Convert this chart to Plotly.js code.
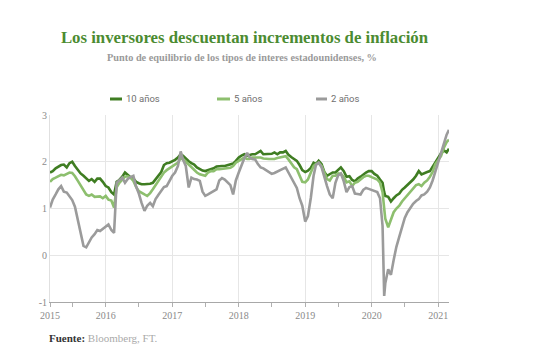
<!DOCTYPE html>
<html>
<head>
<meta charset="utf-8">
<script src="https://cdn.plot.ly/plotly-3.0.1.min.js"></script>
<style>html,body{margin:0;padding:0;background:#fff;}#chart{width:533px;height:362px;}</style>
</head>
<body>
<div id="chart"></div>
<script>
// Observation dates (twice a month, one extra point in March 2020)
const dates = [
  '2015-03-01','2015-03-16','2015-04-01','2015-04-16','2015-05-01','2015-05-16','2015-06-01','2015-06-16','2015-07-01','2015-07-16',
  '2015-08-01','2015-08-16','2015-09-01','2015-09-16','2015-10-01','2015-10-16','2015-11-01','2015-11-16','2015-12-01','2015-12-16',
  '2016-01-01','2016-01-16','2016-02-01','2016-02-16','2016-03-01','2016-03-16','2016-04-01','2016-04-16','2016-05-01','2016-05-16',
  '2016-06-01','2016-06-16','2016-07-01','2016-07-16','2016-08-01','2016-08-16','2016-09-01','2016-09-16','2016-10-01','2016-10-16',
  '2016-11-01','2016-11-16','2016-12-01','2016-12-16',
  '2017-01-01','2017-01-16','2017-02-01','2017-02-16','2017-03-01','2017-03-16','2017-04-01','2017-04-16','2017-05-01','2017-05-16',
  '2017-06-01','2017-06-16','2017-07-01','2017-07-16','2017-08-01','2017-08-16','2017-09-01','2017-09-16','2017-10-01','2017-10-16',
  '2017-11-01','2017-11-16','2017-12-01','2017-12-16',
  '2018-01-01','2018-01-16','2018-02-01','2018-02-16','2018-03-01','2018-03-16','2018-04-01','2018-04-16','2018-05-01','2018-05-16',
  '2018-06-01','2018-06-16','2018-07-01','2018-07-16','2018-08-01','2018-08-16','2018-09-01','2018-09-16','2018-10-01','2018-10-16',
  '2018-11-01','2018-11-16','2018-12-01','2018-12-16',
  '2019-01-01','2019-01-16','2019-02-01','2019-02-16','2019-03-01','2019-03-16','2019-04-01','2019-04-16','2019-05-01','2019-05-16',
  '2019-06-01','2019-06-16','2019-07-01','2019-07-16','2019-08-01','2019-08-16','2019-09-01','2019-09-16','2019-10-01','2019-10-16',
  '2019-11-01','2019-11-16','2019-12-01','2019-12-16',
  '2020-01-01','2020-01-16','2020-02-01','2020-02-16','2020-03-01','2020-03-10','2020-03-16','2020-04-01','2020-04-16','2020-05-01',
  '2020-05-16','2020-06-01','2020-06-16','2020-07-01','2020-07-16','2020-08-01','2020-08-16','2020-09-01','2020-09-16','2020-10-01',
  '2020-10-16','2020-11-01','2020-11-16','2020-12-01','2020-12-16',
  '2021-01-01','2021-01-16','2021-02-01','2021-02-16','2021-03-01'
];
// 10-year breakeven, %
const be10 = [
  1.77,1.80,1.86,1.90,1.93,1.94,1.88,1.97,2.00,1.91,
  1.82,1.75,1.70,1.64,1.59,1.63,1.57,1.64,1.64,1.57,
  1.48,1.45,1.35,1.30,1.57,1.61,1.68,1.77,1.71,1.67,
  1.64,1.57,1.54,1.52,1.52,1.52,1.53,1.55,1.63,1.70,
  1.78,1.93,1.97,1.98,
  2.01,2.04,2.09,2.16,2.13,2.06,2.01,1.97,1.94,1.88,
  1.84,1.81,1.80,1.82,1.84,1.86,1.90,1.91,1.91,1.91,
  1.93,1.95,1.96,2.02,
  2.09,2.13,2.16,2.13,2.15,2.16,2.16,2.19,2.23,2.16,
  2.16,2.16,2.17,2.20,2.16,2.20,2.20,2.23,2.15,2.10,
  2.05,2.02,1.93,1.82,
  1.78,1.81,1.87,1.98,1.95,2.02,1.95,1.78,1.70,1.73,
  1.77,1.77,1.82,1.88,1.80,1.68,1.69,1.61,1.58,1.64,
  1.68,1.73,1.77,1.80,
  1.80,1.74,1.70,1.62,1.55,1.35,1.27,1.25,1.15,1.22,
  1.28,1.32,1.40,1.45,1.50,1.55,1.62,1.70,1.80,1.73,
  1.76,1.78,1.80,1.90,2.00,
  2.08,2.18,2.24,2.20,2.28
];
// 5-year breakeven, %
const be5 = [
  1.57,1.63,1.66,1.69,1.72,1.71,1.74,1.77,1.76,1.69,
  1.59,1.50,1.40,1.30,1.27,1.30,1.25,1.26,1.26,1.22,
  1.27,1.19,1.17,1.02,1.45,1.55,1.62,1.68,1.69,1.66,
  1.59,1.46,1.37,1.33,1.30,1.27,1.33,1.41,1.50,1.59,
  1.69,1.77,1.82,1.86,
  1.89,1.94,1.98,2.08,2.05,2.00,1.94,1.88,1.83,1.77,
  1.73,1.71,1.70,1.77,1.80,1.80,1.84,1.84,1.85,1.85,
  1.86,1.87,1.91,1.98,
  2.02,2.05,2.09,2.06,2.06,2.09,2.09,2.09,2.09,2.07,
  2.06,2.06,2.06,2.06,2.08,2.09,2.10,2.12,2.05,1.97,
  1.88,1.84,1.72,1.57,
  1.56,1.62,1.77,1.91,1.95,1.98,1.91,1.75,1.63,1.60,
  1.70,1.70,1.75,1.74,1.68,1.56,1.58,1.48,1.55,1.57,
  1.63,1.67,1.70,1.70,
  1.67,1.65,1.62,1.55,1.35,1.00,0.78,0.60,0.78,0.92,
  1.00,1.06,1.15,1.22,1.30,1.38,1.44,1.50,1.52,1.48,
  1.55,1.60,1.68,1.78,1.95,
  2.05,2.12,2.30,2.42,2.47
];
// 2-year breakeven, %
const be2 = [
  1.02,1.19,1.30,1.41,1.48,1.36,1.34,1.25,1.18,1.04,
  0.77,0.50,0.20,0.17,0.28,0.38,0.45,0.54,0.52,0.57,
  0.63,0.66,0.54,0.48,1.55,1.60,1.66,1.55,1.63,1.67,
  1.70,1.47,1.32,1.12,0.95,1.06,1.12,1.05,1.20,1.29,
  1.38,1.46,1.48,1.60,
  1.70,1.77,1.91,2.22,2.04,1.91,1.45,1.66,1.63,1.62,
  1.59,1.36,1.27,1.30,1.34,1.38,1.41,1.60,1.65,1.62,
  1.55,1.50,1.30,1.60,
  1.77,1.93,2.08,2.19,2.10,2.06,2.05,1.95,1.88,1.86,
  1.82,1.77,1.74,1.76,1.79,1.81,1.84,1.88,1.77,1.66,
  1.53,1.44,1.22,1.06,
  0.72,0.84,1.23,1.70,1.93,1.98,1.88,1.66,1.48,1.30,
  1.22,1.55,1.71,1.75,1.58,1.35,1.46,1.48,1.32,1.31,
  1.30,1.40,1.44,1.42,
  1.40,1.38,1.35,1.22,0.63,-0.87,-0.60,-0.30,-0.42,-0.10,
  0.18,0.40,0.62,0.80,0.92,1.02,1.10,1.16,1.20,1.28,
  1.30,1.36,1.45,1.60,1.80,
  2.02,2.22,2.42,2.58,2.68
];
const seriesNames = ['10 años','5 años','2 años'];
const seriesColors = ['#3f7d22','#8dbf6e','#9b9b9b'];
const yearTickVals = ['2015-03-01','2016-01-01','2017-01-01','2018-01-01','2019-01-01','2020-01-01','2021-01-01'];
const yearTickText = ['2015','2016','2017','2018','2019','2020','2021'];
const halfYearTicks = ['2015-07-01','2016-07-01','2017-07-01','2018-07-01','2019-07-01','2020-07-01'];

const serif = 'Liberation Serif, serif';
const values = [be10, be5, be2];
const traces = values.map((v, i) => ({
  x: dates, y: v, type: 'scatter', mode: 'lines', name: seriesNames[i],
  line: {color: seriesColors[i], width: 2.6}, hoverinfo: 'skip'
}));

// custom legend (paper coords)
const legY = 1.0856;
const legSym = [[0.1504,0.1805],[0.4185,0.4511],[0.6667,0.6942]];
const shapes = legSym.map((s, i) => ({
  type: 'line', xref: 'paper', yref: 'paper', x0: s[0], x1: s[1], y0: legY, y1: legY,
  line: {color: seriesColors[i], width: 3}
}));
const annotations = legSym.map((s, i) => ({
  xref: 'paper', yref: 'paper', x: s[1] + 0.004, y: legY, xanchor: 'left', yanchor: 'middle',
  text: seriesNames[i], showarrow: false, font: {family: 'Roboto, sans-serif', size: 9.5, color: '#6f6f6f'}
}));
annotations.push({
  xref: 'paper', yref: 'paper', x: 0.4812, y: 1.3064, xanchor: 'center', yanchor: 'middle',
  text: 'Punto de equilibrio de los tipos de interes estadounidenses, %', showarrow: false,
  font: {family: serif, size: 10.3, color: '#9a9a9a', weight: 'bold'}
});
annotations.push({
  xref: 'paper', yref: 'paper', x: -0.0075, y: -0.1925, xanchor: 'left', yanchor: 'middle',
  text: '<span style="color:#333333"><b>Fuente:</b></span> Bloomberg, FT.', showarrow: false,
  font: {family: serif, size: 11, color: '#aaaaaa'}
});

const layout = {
  width: 533, height: 362,
  margin: {l: 50, r: 84, t: 115, b: 60},
  paper_bgcolor: '#ffffff', plot_bgcolor: '#ffffff',
  showlegend: false,
  title: {
    text: 'Los inversores descuentan incrementos de inflación',
    x: 0.4587, xanchor: 'center', xref: 'container',
    y: 0.8986, yanchor: 'middle', yref: 'container',
    font: {family: serif, size: 16.8, color: '#4b8b31', weight: 'bold'}
  },
  xaxis: {
    type: 'date', range: ['2015-03-01', '2021-03-01'],
    tickmode: 'array', tickvals: yearTickVals, ticktext: yearTickText,
    ticks: 'outside', ticklen: 4, tickcolor: '#b0b0b0',
    minor: {tickmode: 'array', tickvals: halfYearTicks, ticks: 'outside', ticklen: 4, tickcolor: '#b0b0b0', showgrid: false},
    showgrid: true, gridcolor: '#e6e6e6', gridwidth: 1,
    showline: true, linecolor: '#a8a8a8', linewidth: 1,
    tickfont: {family: serif, size: 10, color: '#8a8a8a'},
    zeroline: false, fixedrange: true
  },
  yaxis: {
    range: [-1, 3], tickmode: 'array', tickvals: [-1,0,1,2,3], ticktext: ['-1','0','1','2','3'],
    showgrid: true, gridcolor: '#e6e6e6', gridwidth: 1,
    showline: true, linecolor: '#e0e0e0', linewidth: 1,
    ticks: '', tickfont: {family: serif, size: 10, color: '#8a8a8a'},
    zeroline: false, fixedrange: true
  },
  shapes: shapes,
  annotations: annotations
};
Plotly.newPlot('chart', traces, layout, {displayModeBar: false, staticPlot: true});
</script>
</body>
</html>
